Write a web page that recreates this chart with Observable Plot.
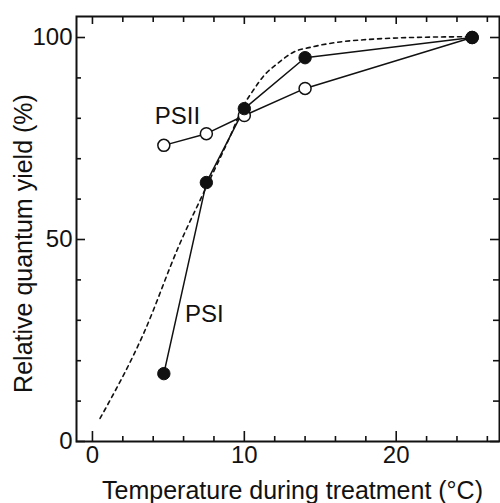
<!DOCTYPE html>
<html>
<head>
<meta charset="utf-8">
<script src="https://cdn.jsdelivr.net/npm/d3@7"></script>
<script src="https://cdn.jsdelivr.net/npm/@observablehq/plot@0.6"></script>
<style>
  html, body { margin: 0; padding: 0; background: #fff; }
  #chart svg { display: block; }
</style>
</head>
<body>
<div id="chart"></div>
<script>
// Measured temperatures (°C)
const temps = [4.7, 7.5, 10, 14, 25];
// Relative quantum yield (%)
const psiiYield = [73.3, 76.2, 80.7, 87.4, 100];
const psiYield = [16.8, 64.1, 82.4, 95.0, 100];
// Dashed reference curve
const curveT = [0.5, 3.4, 5.7, 7.5, 9.0, 10.0, 10.6, 11.3, 12.2, 13.2, 14.5, 16.3, 18.1, 21, 25];
const curveY = [5.7, 27, 48.5, 63, 75, 83.5, 87, 90.6, 93.6, 96.3, 97.7, 98.9, 99.5, 100, 100.2];
// Tick values
const xMajorTicks = [0, 10, 20];
const xMinorTicks = [2, 4, 6, 8, 12, 14, 16, 18, 22, 24, 26];
const yMajorTicks = [0, 50, 100];
const yMinorTicks = [10, 20, 30, 40, 60, 70, 80, 90];
// Series labels
const labelNames = ["PSII", "PSI"];
const labelT = [4.1, 6.1];
const labelY = [78.7, 29.5];
const xTitle = "Temperature during treatment (°C)";
const yTitle = "Relative quantum yield (%)";

const psii = temps.map((t, i) => ({t, y: psiiYield[i]}));
const psi = temps.map((t, i) => ({t, y: psiYield[i]}));
const curve = curveT.map((t, i) => ({t, y: curveY[i]}));
const labels = labelNames.map((name, i) => ({name, t: labelT[i], y: labelY[i]}));

const font = "'Liberation Sans', Arial, Helvetica, sans-serif";
const W = 500, H = 503, mL = 76, mT = 16, mR = 1, mB = 62;
const innerW = W - mL - mR, innerH = H - mT - mB;

// inward ticks as short rules (inset leaves only the tick length)
const xTicks = (ticks, side, size) => Plot.ruleX(ticks, {
  x: d => d, stroke: "#111", strokeWidth: 1.6,
  ...(side === "bottom" ? {insetTop: innerH - size} : {insetBottom: innerH - size})
});
const yTicks = (ticks, side, size) => Plot.ruleY(ticks, {
  y: d => d, stroke: "#111", strokeWidth: 1.6,
  ...(side === "left" ? {insetRight: innerW - size} : {insetLeft: innerW - size})
});

const chart = Plot.plot({
  width: W,
  height: H,
  marginLeft: mL,
  marginTop: mT,
  marginRight: mR,
  marginBottom: mB,
  style: {fontFamily: font, fontSize: "24px", color: "#111", background: "#fff"},
  x: {domain: [-1.05, 26.8]},
  y: {domain: [0, 105.2]},
  marks: [
    xTicks(xMajorTicks, "bottom", 10),
    xTicks(xMinorTicks, "bottom", 5),
    xTicks(xMajorTicks, "top", 8),
    xTicks(xMinorTicks, "top", 6),
    yTicks(yMajorTicks, "left", 9),
    yTicks(yMinorTicks, "left", 5),
    yTicks(yMajorTicks, "right", 9),
    yTicks(yMinorTicks, "right", 6),
    // tick labels
    Plot.axisX(xMajorTicks, {anchor: "bottom", tickSize: 0, tickPadding: 4, label: null, fontSize: 24}),
    Plot.axisY(yMajorTicks, {anchor: "left", tickSize: 0, tickPadding: 4, label: null, fontSize: 24}),
    Plot.frame({strokeWidth: 2, stroke: "#111"}),
    // data
    Plot.line(curve, {x: "t", y: "y", curve: "monotone-x", stroke: "#111", strokeWidth: 1.6, strokeDasharray: "4,4"}),
    Plot.line(psii, {x: "t", y: "y", stroke: "#111", strokeWidth: 1.5}),
    Plot.line(psi, {x: "t", y: "y", stroke: "#111", strokeWidth: 1.5}),
    Plot.dot(psii, {x: "t", y: "y", r: 6, fill: "white", stroke: "#111", strokeWidth: 1.5}),
    Plot.dot(psi, {x: "t", y: "y", r: 6.2, fill: "#111", stroke: "#111", strokeWidth: 1}),
    Plot.text(labels, {x: "t", y: "y", text: "name", textAnchor: "start", lineAnchor: "bottom", fontSize: 24, fill: "#111"}),
    // axis titles
    Plot.text([xTitle], {frameAnchor: "bottom", text: d => d, textAnchor: "middle", lineAnchor: "bottom", dy: 57, dx: 4.5, fontSize: 25, fill: "#111"}),
    Plot.text([yTitle], {frameAnchor: "left", text: d => d, rotate: -90, textAnchor: "middle", lineAnchor: "bottom", dx: -45, dy: 14.5, fontSize: 25, fill: "#111"})
  ]
});
document.getElementById("chart").appendChild(chart);
</script>
</body>
</html>
